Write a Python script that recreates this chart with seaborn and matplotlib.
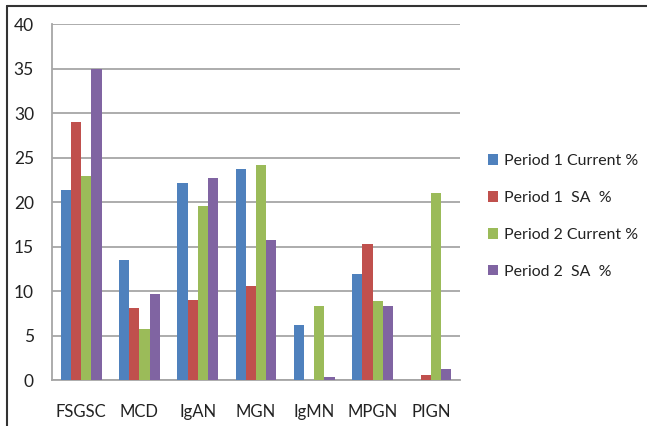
import matplotlib
matplotlib.use("Agg")
import matplotlib.pyplot as plt
from matplotlib.lines import Line2D
from matplotlib.patches import Patch
import seaborn as sns
import pandas as pd

categories = ["FSGSC", "MCD", "IgAN", "MGN", "IgMN", "MPGN", "PIGN"]
series_names = ["Period 1 Current %", "Period 1  SA  %", "Period 2 Current %", "Period 2  SA  %"]
p1_current = [21.4, 13.5, 22.2, 23.7, 6.2, 11.9, 0.0]
p1_sa = [29.0, 8.1, 9.0, 10.6, 0.0, 15.3, 0.6]
p2_current = [23.0, 5.8, 19.6, 24.2, 8.4, 8.9, 21.0]
p2_sa = [35.0, 9.7, 22.7, 15.8, 0.4, 8.4, 1.3]
colors = ["#4F81BD", "#C0504D", "#9BBB59", "#8064A2"]
y_ticks = [0, 5, 10, 15, 20, 25, 30, 35, 40]

rows = []
for name, vals in zip(series_names, [p1_current, p1_sa, p2_current, p2_sa]):
    for cat, v in zip(categories, vals):
        rows.append({"group": cat, "series": name, "value": v})
df = pd.DataFrame(rows)

sns.set_style("white")
plt.rcParams["font.family"] = ["Lato", "DejaVu Sans"]

fig = plt.figure(figsize=(6.47, 4.26), dpi=100)
ax = fig.add_axes([52 / 647, 1 - 380.3 / 426, 408 / 647, (380.3 - 24.3) / 426])

sns.barplot(data=df, x="group", y="value", hue="series", order=categories,
            hue_order=series_names, palette=colors, width=0.7, saturation=1,
            errorbar=None, ax=ax, legend=False, zorder=3, linewidth=0)

ax.set_ylim(0, 40)
ax.set_xlim(-0.5, len(categories) - 0.5)
ax.set_yticks(y_ticks)
ax.set_yticklabels([str(t) for t in y_ticks], fontsize=12.5, color="#222222")
ax.set_xlabel("")
ax.set_ylabel("")

grid_color = "#a6a6a6"
ax.yaxis.grid(True, color=grid_color, linewidth=1.3, zorder=0)
ax.set_axisbelow(True)
for s in ["top", "right"]:
    ax.spines[s].set_visible(False)
for s in ["left", "bottom"]:
    ax.spines[s].set_color(grid_color)
    ax.spines[s].set_linewidth(1.3)

# category tick marks sit between groups, labels centered on groups
ax.set_xticks([i - 0.5 for i in range(len(categories) + 1)], minor=False)
ax.set_xticklabels([""] * (len(categories) + 1))
ax.set_xticks(range(len(categories)), minor=True)
ax.set_xticklabels(categories, minor=True, fontsize=12, color="#222222")
ax.tick_params(axis="x", which="major", length=6, width=1.3, color=grid_color, direction="out")
ax.tick_params(axis="x", which="minor", length=0, pad=17)
ax.tick_params(axis="y", length=5, width=1.3, color=grid_color, direction="out", pad=8)

handles = [Patch(facecolor=c, edgecolor="none") for c in colors]
fig.legend(handles, series_names, loc="center left", bbox_to_anchor=(488 / 647, 1 - 216.5 / 426),
           frameon=False, fontsize=11.4, handlelength=0.62, handleheight=0.62,
           handletextpad=0.4, labelspacing=1.45, labelcolor="#222222",
           borderpad=0, borderaxespad=0)

# frame lines along the top and left of the figure
fig.add_artist(Line2D([7 / 647, 1], [1 - 6 / 426, 1 - 6 / 426], color="#333333", linewidth=1.5))
fig.add_artist(Line2D([7 / 647, 7 / 647], [0, 1 - 6 / 426], color="#333333", linewidth=1.5))

fig.savefig("out.png", dpi=100)
